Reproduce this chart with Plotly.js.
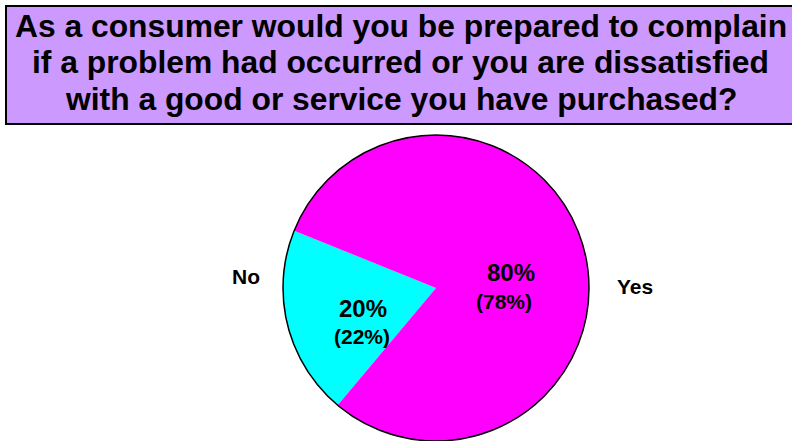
<!DOCTYPE html>
<html>
<head>
<meta charset="utf-8">
<script src="https://cdn.plot.ly/plotly-3.0.1.min.js"></script>
<style>
html,body{margin:0;padding:0;background:#fff;overflow:hidden;}
#chart{width:792px;height:441px;}
</style>
</head>
<body>
<div id="chart"></div>
<script>
// ---- data ----
const titleLines = [
  'As a consumer would you be prepared to complain',
  'if a problem had occurred or you are dissatisfied',
  'with a good or service you have purchased?'
];
const labels = ['No', 'Yes'];
const values = [20, 80];
const previousValues = [22, 78];

// ---- layout helpers (pixel -> paper) ----
const W = 792, H = 441;
const px = x => x / W;
const py = y => 1 - y / H;
const FONT = 'Liberation Sans, Arial, Helvetica, sans-serif';
const sliceColors = ['#00FFFF', '#FF00FF'];

const pieX = [283, 589];
const pieY = [135, 441];

const trace = {
  type: 'pie',
  labels: labels,
  values: values,
  sort: false,
  direction: 'clockwise',
  rotation: 220,
  marker: { colors: sliceColors, line: { width: 0 } },
  textinfo: 'none',
  hoverinfo: 'skip',
  showlegend: false,
  domain: { x: [px(pieX[0]), px(pieX[1])], y: [py(pieY[1]), py(pieY[0])] }
};

const annotations = [];
const titleMid = [26, 62.5, 99];
titleLines.forEach((t, i) => {
  annotations.push({
    text: '<b>' + t + '</b>', xref: 'paper', yref: 'paper',
    x: px(401), y: py(titleMid[i]), xanchor: 'center', yanchor: 'middle',
    showarrow: false, font: { family: FONT, size: 31.8, color: '#000' }
  });
});

// slice value labels (current / previous) and category labels
const valPos = [[362.5, 308], [511, 272]];
const prevPos = [[361.5, 336.5], [504, 301]];
const catPos = [[245.5, 276], [635, 286.5]];
labels.forEach((lab, i) => {
  annotations.push({
    text: '<b>' + values[i] + '%</b>', xref: 'paper', yref: 'paper',
    x: px(valPos[i][0]), y: py(valPos[i][1]), xanchor: 'center', yanchor: 'middle',
    showarrow: false, font: { family: FONT, size: 24, color: '#000' }
  });
  annotations.push({
    text: '<b>(' + previousValues[i] + '%)</b>', xref: 'paper', yref: 'paper',
    x: px(prevPos[i][0]), y: py(prevPos[i][1]), xanchor: 'center', yanchor: 'middle',
    showarrow: false, font: { family: FONT, size: 21, color: '#000' }
  });
  annotations.push({
    text: '<b>' + lab + '</b>', xref: 'paper', yref: 'paper',
    x: px(catPos[i][0]), y: py(catPos[i][1]), xanchor: 'center', yanchor: 'middle',
    showarrow: false, font: { family: FONT, size: 21, color: '#000' }
  });
});

const layout = {
  width: W, height: H,
  margin: { l: 0, r: 0, t: 0, b: 0 },
  paper_bgcolor: '#fff',
  plot_bgcolor: '#fff',
  showlegend: false,
  shapes: [
    { type: 'rect', xref: 'paper', yref: 'paper', layer: 'below',
      x0: px(6), x1: px(797), y0: py(124), y1: py(6),
      fillcolor: '#CC99FF', line: { color: '#000', width: 2 } },
    { type: 'circle', xref: 'paper', yref: 'paper', layer: 'above',
      x0: px(pieX[0]), x1: px(pieX[1]), y0: py(pieY[1]), y1: py(pieY[0]),
      line: { color: '#000', width: 1.5 }, fillcolor: 'rgba(0,0,0,0)' }
  ],
  annotations: annotations
};

Plotly.newPlot('chart', [trace], layout, { displayModeBar: false, staticPlot: true });
</script>
</body>
</html>
